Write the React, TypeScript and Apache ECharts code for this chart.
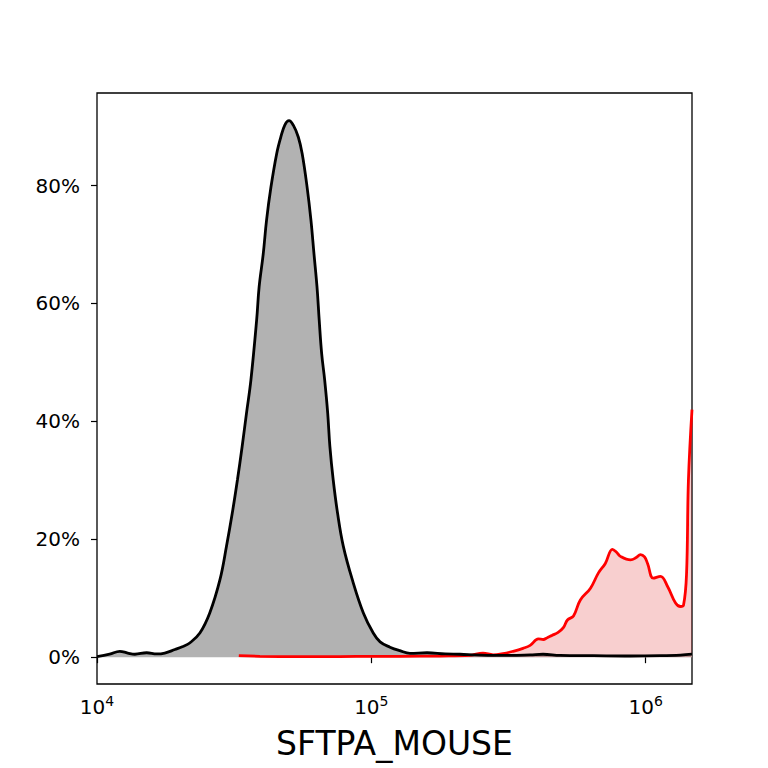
import React, { useEffect, useRef } from "react";
import * as echarts from "echarts";

// x values are log10(intensity)
const blackLog10Intensity = [
  4.0, 4.046, 4.083, 4.112, 4.138, 4.181, 4.218, 4.247, 4.284, 4.313, 4.338, 4.375,
  4.411, 4.448, 4.472, 4.493, 4.512, 4.529, 4.545, 4.561, 4.582, 4.591, 4.606,
  4.618, 4.634, 4.655, 4.67, 4.685, 4.7, 4.716, 4.734, 4.748, 4.766, 4.78, 4.791,
  4.802, 4.81, 4.819, 4.83, 4.841, 4.849, 4.861, 4.877, 4.898, 4.931, 4.971, 5.007,
  5.032, 5.068, 5.104, 5.141, 5.203, 5.269, 5.323, 5.378, 5.444, 5.506, 5.579,
  5.626, 5.689, 5.809, 5.944, 6.054, 6.127, 6.169,
];
const blackPercent = [
  0.1, 0.5, 1.0, 0.7, 0.5, 0.75, 0.55, 0.7, 1.3, 1.8, 2.4, 4.1,
  7.5, 13.1, 18.8, 24.4, 30.1, 35.7, 41.4, 47.0, 57.2, 62.8, 68.4,
  74.1, 79.7, 85.4, 88.2, 90.3, 91.0, 90.2, 88.2, 85.4, 79.7, 74.1, 68.4,
  62.8, 57.2, 51.5, 47.0, 41.4, 35.7, 30.1, 24.4, 18.8, 13.1, 7.5, 4.1,
  2.6, 1.7, 1.1, 0.65, 0.75, 0.55, 0.5, 0.4, 0.3, 0.3, 0.4,
  0.5, 0.3, 0.25, 0.2, 0.25, 0.35, 0.5,
];

const redLog10Intensity = [
  4.517, 4.594, 4.74, 4.886, 5.003, 5.104, 5.25, 5.359, 5.407, 5.444, 5.48, 5.517,
  5.553, 5.579, 5.609, 5.627, 5.641, 5.659, 5.681, 5.7, 5.715, 5.737, 5.762, 5.799,
  5.828, 5.853, 5.879, 5.894, 5.908, 5.945, 5.966, 5.981, 5.996, 6.007, 6.028,
  6.054, 6.08, 6.109, 6.127, 6.138, 6.149, 6.156, 6.169,
];
const redPercent = [
  0.25, 0.15, 0.1, 0.1, 0.15, 0.15, 0.2, 0.3, 0.7, 0.4, 0.6, 1.0,
  1.5, 2.0, 3.1, 3.0, 3.3, 3.7, 4.2, 5.0, 6.3, 7.0, 9.7, 11.7,
  14.3, 15.9, 18.3, 17.8, 17.1, 16.5, 16.9, 17.4, 17.0, 15.9, 13.4,
  13.7, 12.0, 9.2, 8.6, 8.8, 14, 30, 42,
];

const xTickValues = [4, 5, 6];
const yTickValues = [0, 20, 40, 60, 80];
const xAxisTitle = "SFTPA_MOUSE";

const FONT = "DejaVu Sans";

export default function App() {
  const ref = useRef<HTMLDivElement>(null);
  useEffect(() => {
    if (!ref.current) return;
    const chart = echarts.init(ref.current, undefined, { renderer: "svg" });
    const blackData = blackLog10Intensity.map((x, i) => [x, blackPercent[i]]);
    const redData = redLog10Intensity.map((x, i) => [x, redPercent[i]]);
    chart.setOption({
      animation: false,
      backgroundColor: "#ffffff",
      grid: {
        left: 97,
        right: 76,
        top: 93,
        bottom: 84,
        show: true,
        borderColor: "#000",
        borderWidth: 1.3,
        backgroundColor: "transparent",
      },
      xAxis: {
        type: "value",
        min: 4,
        max: 6.169,
        name: xAxisTitle,
        nameLocation: "middle",
        nameGap: 43,
        nameTextStyle: { fontFamily: FONT, fontSize: 33, color: "#000" },
        axisLine: { show: false },
        splitLine: { show: false },
        axisTick: {
          show: true,
          length: 6,
          customValues: xTickValues,
          lineStyle: { color: "#000", width: 1.2 },
        },
        axisLabel: {
          customValues: xTickValues,
          margin: 10,
          formatter: (v: number) => `{b|10}{s|${Math.round(v)}}`,
          rich: {
            b: { fontFamily: FONT, fontSize: 20, color: "#000" },
            s: { fontFamily: FONT, fontSize: 14, color: "#000", padding: [0, 0, 12, 0] },
          },
        },
      },
      yAxis: {
        type: "value",
        min: -4.55,
        max: 95.7,
        axisLine: { show: false },
        splitLine: { show: false },
        axisTick: {
          show: true,
          length: 6,
          customValues: yTickValues,
          lineStyle: { color: "#000", width: 1.2 },
        },
        axisLabel: {
          customValues: yTickValues,
          margin: 17,
          formatter: (v: number) => `${v}%`,
          fontFamily: FONT,
          fontSize: 20,
          color: "#000",
        },
      },
      series: [
        {
          type: "line",
          data: blackData,
          showSymbol: false,
          smooth: 0.4,
          lineStyle: { width: 0, opacity: 0 },
          areaStyle: { color: "#b2b2b2", opacity: 1 },
        },
        {
          type: "line",
          data: redData,
          showSymbol: false,
          smooth: 0.4,
          lineStyle: { width: 2.8, color: "#ff0000" },
          itemStyle: { color: "#ff0000" },
          areaStyle: { color: "rgba(220,0,0,0.27)" },
        },
        {
          type: "line",
          data: blackData,
          showSymbol: false,
          smooth: 0.4,
          lineStyle: { width: 2.8, color: "#000" },
          itemStyle: { color: "#000" },
        },
      ],
    });
    return () => chart.dispose();
  }, []);
  return (
    <div
      ref={ref}
      style={{ position: "fixed", left: 0, top: 0, width: 768, height: 768 }}
    />
  );
}
